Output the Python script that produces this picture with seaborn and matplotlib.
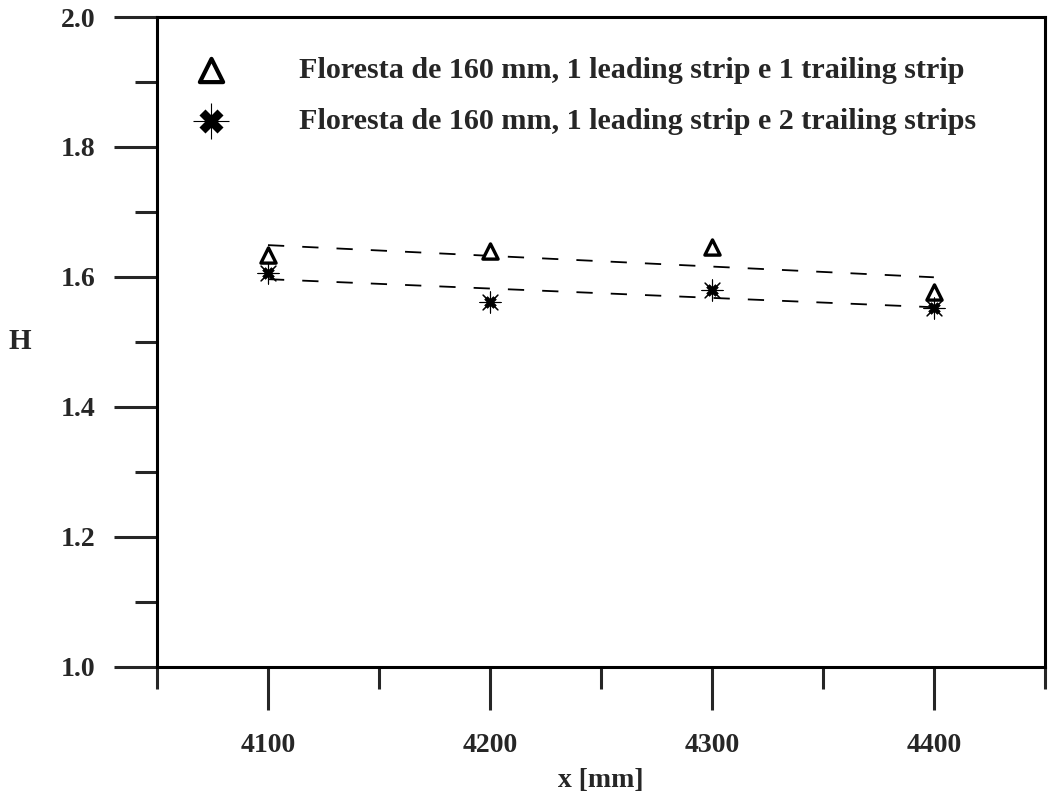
import numpy as np
import pandas as pd
import matplotlib
matplotlib.use("Agg")
import matplotlib.pyplot as plt
from matplotlib.ticker import MultipleLocator
from matplotlib.legend_handler import HandlerTuple
import seaborn as sns

# Streamwise stations and shape factor H for the two strip configurations
x_mm = [4100, 4200, 4300, 4400]
h_one_trailing = [1.634, 1.640, 1.646, 1.577]
h_two_trailing = [1.606, 1.562, 1.580, 1.552]

labels = [
    "Floresta de 160 mm, 1 leading strip e 1 trailing strip",
    "Floresta de 160 mm, 1 leading strip e 2 trailing strips",
]

x_ticks = [4100, 4200, 4300, 4400]
y_ticks = [1.0, 1.2, 1.4, 1.6, 1.8, 2.0]

df = pd.concat([
    pd.DataFrame({"x": x_mm, "H": h_one_trailing, "serie": labels[0]}),
    pd.DataFrame({"x": x_mm, "H": h_two_trailing, "serie": labels[1]}),
])

sns.set_style("ticks")
plt.rcParams["font.family"] = ["Liberation Serif", "DejaVu Serif"]
plt.rcParams["font.weight"] = "bold"

fig = plt.figure(figsize=(10.48, 7.92), dpi=100)
ax = fig.add_axes([0.1498, 0.158, 0.8472, 0.8205])

# Least-squares trend lines (dashed)
for lab in labels:
    sub = df[df["serie"] == lab]
    sns.regplot(data=sub, x="x", y="H", ax=ax, scatter=False, ci=None,
                truncate=True, color="black",
                line_kws=dict(lw=1.3, dashes=(9, 10)))

d1 = df[df["serie"] == labels[0]]
d2 = df[df["serie"] == labels[1]]
sns.scatterplot(data=d1, x="x", y="H", ax=ax, marker="^", s=120,
                facecolor="white", edgecolor="black", linewidth=2.4,
                zorder=5, legend=False)
# star symbol: filled core with thin spokes
sns.scatterplot(data=d2, x="x", y="H", ax=ax, marker="X", s=70,
                color="black", edgecolor="black", linewidth=0.5,
                zorder=5, legend=False)
sns.scatterplot(data=d2, x="x", y="H", ax=ax, marker=(8, 2, 0), s=230,
                color="black", linewidth=0.8, zorder=6, legend=False)

ax.set_xlim(4050, 4450)
ax.set_ylim(1.0, 2.0)
ax.set_xticks(x_ticks)
ax.set_yticks(y_ticks)
ax.xaxis.set_minor_locator(MultipleLocator(50))
ax.yaxis.set_minor_locator(MultipleLocator(0.1))
ax.set_xticklabels([str(v) for v in x_ticks], fontsize=20, fontweight="bold")
ax.set_yticklabels([f"{v:.1f}" for v in y_ticks], fontsize=20, fontweight="bold")

ax.tick_params(axis="both", which="major", direction="out", length=31, width=2.2)
ax.tick_params(axis="both", which="minor", direction="out", length=16, width=2.2)
ax.tick_params(axis="x", which="major", pad=16.5)
ax.tick_params(axis="y", which="major", pad=13.5)

for side in ["left", "right", "top", "bottom"]:
    ax.spines[side].set_visible(True)
    ax.spines[side].set_linewidth(2.2)
    ax.spines[side].set_color("black")

ax.set_xlabel("x [mm]", fontsize=20, fontweight="bold", labelpad=7)
ax.set_ylabel("H", fontsize=21, fontweight="bold", rotation=0, labelpad=29,
              va="center")

# Legend
h1 = ax.scatter([], [], marker="^", s=280, facecolor="white",
                edgecolor="black", linewidth=3.0)
h2a = ax.scatter([], [], marker="X", s=300, color="black", linewidth=0)
h2b = ax.scatter([], [], marker="+", s=650, color="black", linewidth=0.8)
leg = ax.legend([h1, (h2a, h2b)], labels, loc="upper left", frameon=False,
                bbox_to_anchor=(0.027, 0.939), borderpad=0, borderaxespad=0,
                handlelength=2.0, handletextpad=1.93, labelspacing=0.79,
                handler_map={tuple: HandlerTuple(ndivide=1)},
                prop=dict(family="Liberation Serif", weight="bold", size=21.7))

fig.savefig("out.png", dpi=100, facecolor="white")
